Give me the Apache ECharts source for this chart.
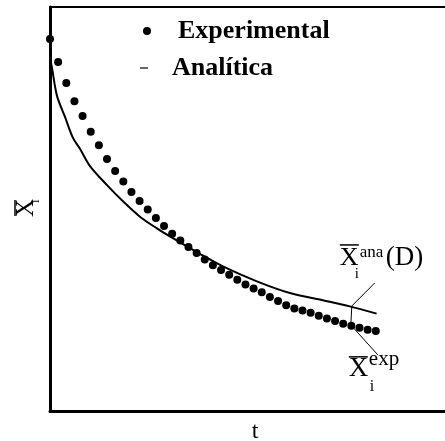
<!DOCTYPE html>
<html>
<head>
<meta charset="utf-8">
<script src="https://cdn.jsdelivr.net/npm/echarts@6/dist/echarts.min.js"></script>
<style>
  html, body { margin: 0; padding: 0; background: #fff; }
  #chart { width: 445px; height: 441px; }
</style>
</head>
<body>
<div id="chart"></div>
<script>
// Experimental measurements: time index and normalised mean value
const tExp = [0, 1, 2, 3, 4, 5, 6, 7, 8, 9, 10, 11, 12, 13, 14, 15, 16, 17, 18, 19, 20,
              21, 22, 23, 24, 25, 26, 27, 28, 29, 30, 31, 32, 33, 34, 35, 36, 37, 38, 39, 40];
const xExp = [0.921, 0.864, 0.812, 0.767, 0.730, 0.691, 0.658, 0.624, 0.594, 0.568, 0.542,
              0.520, 0.499, 0.478, 0.458, 0.439, 0.422, 0.406, 0.391, 0.375, 0.361,
              0.349, 0.337, 0.325, 0.313, 0.303, 0.294, 0.282, 0.272, 0.262, 0.254,
              0.249, 0.243, 0.236, 0.229, 0.223, 0.216, 0.211, 0.206, 0.201, 0.198];

// Analytical solution X_i^ana(D)
const tAna = [0, 0.245, 0.859, 1.84, 2.82, 3.68, 4.91, 7.0, 8.96, 11.04, 13.13, 14.72,
              18.4, 21.23, 25.4, 29.45, 33.5, 36.8, 40.1];
const xAna = [0.874, 0.849, 0.780, 0.728, 0.676, 0.649, 0.606, 0.559, 0.519, 0.481, 0.452,
              0.432, 0.389, 0.358, 0.321, 0.292, 0.274, 0.259, 0.241];

// Leader line joining the two curve labels
const tLeader = [39.88, 37.06, 36.93, 40.25];
const xLeader = [0.317, 0.260, 0.213, 0.139];

const seriesNames = ['Experimental', 'Analítica'];
const xAxisName = 't';

const SERIF = "'Liberation Serif', 'Times New Roman', serif";

const zip = (a, b) => a.map((v, i) => [v, b[i]]);

const chart = echarts.init(document.getElementById('chart'), null, { renderer: 'canvas' });

const legendText = {
  fontFamily: SERIF, fontWeight: 'bold', fontSize: 26, color: '#000'
};

chart.setOption({
  animation: false,
  backgroundColor: '#fff',
  grid: { left: 50, right: 0, top: 7, bottom: 30, outerBoundsMode: 'none', containLabel: false },
  legend: [
    {
      data: [{ name: seriesNames[0], icon: 'circle' }],
      left: 143, top: 18, padding: 0, itemWidth: 8, itemHeight: 8,
      selectedMode: false,
      textStyle: Object.assign({ padding: [0, 0, 12, 22] }, legendText)
    },
    {
      data: [{ name: seriesNames[1], icon: 'rect' }],
      left: 140, top: 55, padding: 0, itemWidth: 8, itemHeight: 1.2,
      selectedMode: false,
      textStyle: Object.assign({ padding: [0, 0, 0, 19] }, legendText)
    }
  ],
  xAxis: [
    {
      type: 'value', min: 0, max: 48.5,
      name: xAxisName, nameLocation: 'middle', nameGap: 9,
      nameTextStyle: { fontFamily: SERIF, fontSize: 24, color: '#000', padding: [0, 0, 0, 15] },
      axisLine: { show: true, lineStyle: { color: '#000', width: 3 } },
      axisTick: { show: false }, axisLabel: { show: false }, splitLine: { show: false }
    },
    {
      type: 'value', min: 0, max: 48.5, position: 'top',
      axisLine: { show: true, lineStyle: { color: '#000', width: 2 } },
      axisTick: { show: false }, axisLabel: { show: false }, splitLine: { show: false }
    }
  ],
  yAxis: {
    type: 'value', min: 0, max: 1,
    axisLine: { show: true, lineStyle: { color: '#000', width: 3 } },
    axisTick: { show: false }, axisLabel: { show: false }, splitLine: { show: false }
  },
  series: [
    {
      name: seriesNames[0], type: 'scatter',
      data: zip(tExp, xExp),
      symbol: 'circle', symbolSize: 8,
      itemStyle: { color: '#000', opacity: 1 },
      silent: true
    },
    {
      name: seriesNames[1], type: 'line',
      data: zip(tAna, xAna),
      smooth: 0.3, symbol: 'none',
      lineStyle: { color: '#000', width: 2 },
      itemStyle: { color: '#000' },
      silent: true
    },
    {
      name: 'leader', type: 'line',
      data: zip(tLeader, xLeader),
      symbol: 'none',
      lineStyle: { color: '#000', width: 1 },
      silent: true
    }
  ]
});

// Axis title and curve labels, anchored to data coordinates
function txt(x, y, s, size, align) {
  return {
    type: 'text', x: x, y: y, silent: true,
    style: { text: s, fill: '#000', font: size + 'px ' + SERIF,
             align: align || 'left', verticalAlign: 'middle' }
  };
}
function bar(x1, x2, y, w) {
  return {
    type: 'line', silent: true,
    shape: { x1: x1, y1: y, x2: x2, y2: y },
    style: { stroke: '#000', lineWidth: w || 1.5 }
  };
}

const yMid = chart.convertToPixel({ gridIndex: 0 }, [0, 0.5]);
const anaAnchor = chart.convertToPixel({ gridIndex: 0 }, [tLeader[0], xLeader[0]]);
const expAnchor = chart.convertToPixel({ gridIndex: 0 }, [tLeader[3], xLeader[3]]);

chart.setOption({
  graphic: [
    {
      type: 'group', x: yMid[0] - 24, y: yMid[1] - 1, rotation: Math.PI / 2,
      children: [
        txt(0, 0, 'X', 25, 'center'),
        bar(-8, 8, -11, 1.5),
        txt(5, 10, 'i', 13)
      ]
    },
    {
      type: 'group', x: anaAnchor[0], y: anaAnchor[1],
      children: [
        txt(-35, -25, 'X', 26),
        bar(-35, -16, -38, 1.5),
        txt(-15, -30, 'ana', 17),
        txt(-20, -9, 'i', 15),
        txt(11, -25, '(D)', 27)
      ]
    },
    {
      type: 'group', x: expAnchor[0], y: expAnchor[1],
      children: [
        txt(-29, 14, 'X', 27),
        bar(-29, -10, 2, 1.5),
        txt(-9, 5, 'exp', 21),
        txt(-8, 32, 'i', 16)
      ]
    }
  ]
});
</script>
</body>
</html>
